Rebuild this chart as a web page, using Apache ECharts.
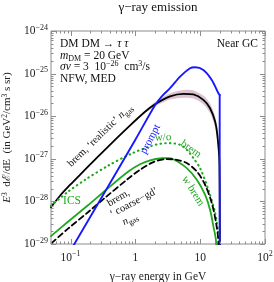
<!DOCTYPE html>
<html><head><meta charset="utf-8">
<script src="https://cdn.jsdelivr.net/npm/echarts@6/dist/echarts.min.js"></script>
<style>html,body{margin:0;padding:0;background:#fff}#c{width:274px;height:282px}</style>
</head><body><div id="c"></div>
<script>
// ---- data ----
const xMin = 0.05, xMax = 100, yMin = 1e-29, yMax = 1e-24;

const bremRealE = [0.05, 0.0689, 0.0982, 0.140, 0.239, 0.432, 0.771, 1.41, 2.01, 3.43, 5.51, 7.85, 11.2, 14.2, 17.0, 18.4, 19.8, 20.15, 20.3];
const bremRealV = [7.3e-29, 1.36e-28, 2.43e-28, 4.22e-28, 9.55e-28, 2.34e-27, 5.47e-27, 1.27e-26, 1.91e-26, 2.92e-26, 3.35e-26, 3.24e-26, 2.42e-26, 1.54e-26, 7.48e-27, 3.66e-27, 8.1e-28, 1e-29, 1e-31];

const bandE  = [1.2, 1.41, 2.01, 3.43, 5.51, 7.85, 11.2, 14.2, 17.0, 18.4, 19.2];
const bandLo = [1.0e-26, 1.20e-26, 1.70e-26, 2.46e-26, 2.72e-26, 2.61e-26, 1.92e-26, 1.19e-26, 5.54e-27, 2.59e-27, 1.4e-27];
const bandHi = [1.035e-26, 1.34e-26, 2.14e-26, 3.47e-26, 4.12e-26, 4.03e-26, 3.05e-26, 1.99e-26, 1.01e-26, 5.17e-27, 1.6e-27];

const promptE = [0.1, 0.5, 1, 2.01, 2.6, 3.43, 4.9, 6.98, 8.34, 11.2, 15.1, 19.1, 20.0];
const promptV = [7.0e-30, 4.6e-28, 2.8e-27, 1.8e-26, 3.0e-26, 4.54e-26, 8.49e-26, 1.34e-25, 1.41e-25, 1.22e-25, 7.11e-26, 3.47e-26, 3.16e-26];
const promptCutE = [20.0, 20.0];
const promptCutV = [3.16e-26, 1e-31];

const woBremE = [0.05, 0.0915, 0.1675, 0.379, 0.859, 1.69, 2.40, 3.43, 4.90, 6.21, 7.85, 9.96, 13.4, 17.0, 18.7, 19.6, 19.9];
const woBremV = [7.92e-29, 1.69e-28, 3.22e-28, 6.86e-28, 1.31e-27, 1.96e-27, 2.25e-27, 2.33e-27, 2.13e-27, 1.63e-27, 1.04e-27, 6.05e-28, 1.88e-28, 5.43e-29, 2.17e-29, 1.07e-29, 1e-31];

const wBremE = [0.05, 0.0915, 0.186, 0.341, 0.771, 1.18, 1.69, 2.56, 3.20, 3.86, 6.21, 8.87, 11.9, 14.2, 16.0, 17.6, 17.7];
const wBremV = [1.53e-29, 3.34e-29, 8.13e-29, 1.78e-28, 4.95e-28, 7.43e-28, 9.22e-28, 1.03e-27, 1.04e-27, 9.75e-28, 6.05e-28, 3.22e-28, 1.44e-28, 6.38e-29, 2.59e-29, 1.08e-29, 1e-31];

const bremCoarseE = [0.0511, 0.0915, 0.186, 0.341, 0.771, 1.18, 1.90, 3.05, 4.35, 6.21, 8.87, 11.9, 15.1, 17.6, 19.1, 19.3];
const bremCoarseV = [1.05e-29, 2.29e-29, 5.57e-29, 1.22e-28, 3.40e-28, 5.52e-28, 8.38e-28, 9.84e-28, 9.48e-28, 7.93e-28, 5.05e-28, 2.46e-28, 9.16e-29, 3.11e-29, 1.08e-29, 1e-31];

const xMajor = [0.1, 1, 10, 100];
const yMajor = [1e-29, 1e-28, 1e-27, 1e-26, 1e-25, 1e-24];

// ---- helpers ----
// ECharts' log scale misbehaves with values near 1e-29, so y is plotted in units of 1e-29
const YUNIT = 1e-29;
const ys = v => v / YUNIT;
const SERIF = '"Liberation Serif", "DejaVu Serif", serif';
const zip = (a, b) => a.map((v, i) => [v, ys(b[i])]);
const BLUE = '#1818ff', GREEN = '#1fa81f', FRAME = '#8c8c8c';

function minorList(lo, hi) {
  const out = [];
  for (let d = Math.floor(Math.log10(lo)) - 1; d <= Math.ceil(Math.log10(hi)); d++) {
    for (let k = 2; k <= 9; k++) {
      const v = k * Math.pow(10, d);
      if (v >= lo * 0.999 && v <= hi * 1.001) out.push(v);
    }
  }
  return out;
}
const xMinor = minorList(xMin, xMax);
const yMinor = minorList(yMin, yMax);

const richAx = {
  b: { fontFamily: SERIF, fontSize: 11.5, lineHeight: 15, color: '#222' },
  s: { fontFamily: SERIF, fontSize: 8, lineHeight: 8, verticalAlign: 'top', color: '#222' }
};

function expLabel(e, plainSmall) {
  if (plainSmall && e === 0) return '{b|1}';
  if (plainSmall && e === 1) return '{b|10}';
  return '{b|10}{s|' + (e < 0 ? '\u2212' + (-e) : e) + '}';
}
function xFmt(v) {
  const l = Math.log10(v), e = Math.round(l);
  if (Math.abs(l - e) > 1e-6) return '';
  return expLabel(e, true);
}
function yFmt(v) {
  const l = Math.log10(v * YUNIT), e = Math.round(l);
  if (Math.abs(l - e) > 1e-6) return '';
  return expLabel(e, false);
}

const richTxt = {
  i: { fontFamily: SERIF, fontSize: 11.5, fontStyle: 'italic', lineHeight: 15 },
  sub: { fontFamily: SERIF, fontSize: 8, lineHeight: 8, verticalAlign: 'bottom' },
  sup: { fontFamily: SERIF, fontSize: 8, lineHeight: 8, verticalAlign: 'top' }
};

function txt(x, y, text, o) {
  o = o || {};
  const rich = {};
  const col = o.color || '#111';
  const fs = o.size || 11.5;
  for (const k in richTxt) rich[k] = Object.assign({}, richTxt[k], { color: col });
  rich.i.fontSize = fs;
  return {
    type: 'text', x: x, y: y, rotation: (o.rot || 0) * Math.PI / 180, z: 100,
    style: {
      text: text, rich: rich, fill: col,
      font: fs + 'px ' + SERIF,
      align: o.align || 'center', verticalAlign: 'middle',
      textAlign: o.align || 'center', textVerticalAlign: 'middle',
      lineHeight: 15
    }
  };
}

function lineSeries(E, V, color, width, type, extra) {
  return Object.assign({
    type: 'line', data: zip(E, V), showSymbol: false, symbol: 'none',
    smooth: 0.3, clip: true, silent: true,
    lineStyle: { color: color, width: width, type: type || 'solid', cap: 'round', join: 'round' }
  }, extra || {});
}

const chart = echarts.init(document.getElementById('c'), null, { renderer: 'canvas' });

chart.setOption({
  animation: false,
  backgroundColor: '#fff',
  grid: { left: 51, right: 9, top: 31, bottom: 38, show: true, borderColor: FRAME, borderWidth: 1, backgroundColor: 'transparent', outerBoundsMode: 'none' },
  xAxis: {
    type: 'log', logBase: 10, min: xMin, max: xMax,
    axisLine: { show: false }, axisTick: { show: false }, splitLine: { show: false },
    axisLabel: { showMinLabel: false, margin: 6, formatter: xFmt, rich: richAx },
    name: '\u03b3\u2212ray energy in GeV', nameLocation: 'middle', nameGap: 27,
    nameTextStyle: { fontFamily: SERIF, fontSize: 11.5, color: '#222' }
  },
  yAxis: {
    type: 'log', logBase: 10, min: ys(yMin), max: ys(yMax),
    axisLine: { show: false }, axisTick: { show: false }, splitLine: { show: false },
    axisLabel: { margin: 3, formatter: yFmt, rich: richAx },
    name: '{i|E}{s|3}  d\u2130/dE  (in GeV{s|2}/cm{s|3} s sr)', nameLocation: 'middle', nameGap: 34, nameRotate: 90,
    nameTextStyle: {
      fontFamily: SERIF, fontSize: 11, color: '#222',
      rich: {
        i: { fontFamily: SERIF, fontSize: 11, fontStyle: 'italic', lineHeight: 14, color: '#222' },
        s: { fontFamily: SERIF, fontSize: 7.5, lineHeight: 7.5, verticalAlign: 'top', color: '#222' }
      }
    }
  },
  series: [
    {
      type: 'custom', silent: true, clip: false, z: 1,
      data: [[1, 100]],
      renderItem: function (params, api) {
        const up = bandE.map((e, i) => api.coord([e, ys(bandHi[i])]));
        const dn = bandE.map((e, i) => api.coord([e, ys(bandLo[i])])).reverse();
        return { type: 'polygon', shape: { points: up.concat(dn), smooth: 0.25 }, style: { fill: '#dcc3d1', stroke: null } };
      }
    },
    lineSeries(bremRealE, bremRealV, '#000', 1.8, 'solid', { z: 3 }),
    lineSeries(promptE, promptV, BLUE, 1.9, 'solid', { z: 4 }),
    lineSeries(promptCutE, promptCutV, BLUE, 1.9, 'solid', { z: 4, smooth: false }),
    lineSeries(woBremE, woBremV, GREEN, 2.1, [0.5, 4.2], { z: 3 }),
    lineSeries(wBremE, wBremV, GREEN, 1.8, 'solid', { z: 3 }),
    lineSeries(bremCoarseE, bremCoarseV, '#000', 1.8, [5.5, 3.5], { z: 3 }),
    {
      type: 'custom', silent: true, clip: false, z: 10,
      data: [[1, 100]],
      renderItem: function (params, api) {
        const bl = api.coord([xMin, ys(yMin)]), tr = api.coord([xMax, ys(yMax)]);
        const ch = [];
        const seg = (x1, y1, x2, y2) => ch.push({ type: 'line', shape: { x1: x1, y1: y1, x2: x2, y2: y2 }, style: { stroke: FRAME, lineWidth: 1 } });
        const xt = (v, L) => { const x = Math.round(api.coord([v, ys(yMin)])[0]) + 0.5; seg(x, bl[1], x, bl[1] - L); seg(x, tr[1], x, tr[1] + L); };
        const yt = (v, L) => { const y = Math.round(api.coord([xMin, ys(v)])[1]) + 0.5; seg(bl[0], y, bl[0] + L, y); seg(tr[0], y, tr[0] - L, y); };
        xMajor.forEach(v => xt(v, 5)); xMinor.forEach(v => xt(v, 2.5));
        yMajor.forEach(v => yt(v, 5)); yMinor.forEach(v => yt(v, 2.5));
        return { type: 'group', children: ch };
      }
    }
  ],
  graphic: [
    txt(158, 8, '\u03b3\u2212ray emission', { size: 13 }),
    txt(60, 44, 'DM DM \u2192 {i|\u03c4} {i|\u03c4}', { align: 'left' }),
    txt(60, 55.5, '{i|m}{sub|DM} = 20 GeV', { align: 'left' }),
    txt(60, 67, '{i|\u03c3v} = 3  10{sup|\u221226}  cm{sup|3}/s', { align: 'left' }),
    txt(60, 78.5, 'NFW, MED', { align: 'left' }),
    txt(258, 44, 'Near GC', { align: 'right' }),
    txt(100, 135.5, 'brem, \u2018realistic\u2019 {i|n}{sub|gas}', { rot: 44, size: 10.5 }),
    txt(150.5, 139, 'prompt', { rot: 62, color: BLUE, size: 11 }),
    txt(163, 137.5, 'w/o', { color: GREEN, size: 11, rot: 3 }),
    txt(191, 149, 'brem', { color: GREEN, size: 11, rot: -35 }),
    txt(193, 191, 'w brem', { color: GREEN, size: 11, rot: -58 }),
    txt(72, 201, 'ICS', { color: GREEN, size: 11.5 }),
    txt(118.5, 198, 'brem,', { rot: 30, size: 10.5 }),
    txt(134, 202.5, '\u2018 coarse\u2212gd\u2019', { rot: 28, size: 10.5 }),
    txt(130, 219, '{i|n}{sub|gas}', { rot: 28, size: 10.5 })
  ]
});
</script>
</body></html>
